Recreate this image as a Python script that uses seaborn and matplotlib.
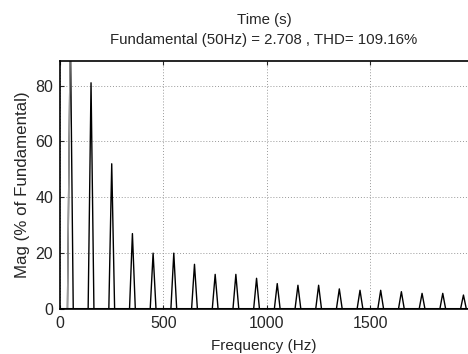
import numpy as np
import pandas as pd
import matplotlib
matplotlib.use("Agg")
import matplotlib.pyplot as plt
import seaborn as sns

# harmonic spectrum
harm_freq = [50, 150, 250, 350, 450, 550, 650, 750, 850, 950,
             1050, 1150, 1250, 1350, 1450, 1550, 1650, 1750, 1850, 1950]
harm_mag = [100, 81, 52, 27, 20, 20, 16, 12.4, 12.4, 11,
            9.1, 8.5, 8.5, 7.2, 6.7, 6.7, 6.2, 5.6, 5.6, 5.0]
bin_half = 14  # Hz, half width of each spectral line base

title_text = "Time (s)\nFundamental (50Hz) = 2.708 , THD= 109.16%"
x_ticks = [0, 500, 1000, 1500]
y_ticks = [0, 20, 40, 60, 80]

sns.set_style("white")
plt.rcParams["font.family"] = ["Liberation Sans", "DejaVu Sans"]

# spectrum as a polyline: zero, peak, zero for every harmonic
fx, fy = [0], [0]
for f, m in zip(harm_freq, harm_mag):
    fx += [f - bin_half, f, f + bin_half]
    fy += [0, m, 0]
fx.append(2000)
fy.append(0)
spec = pd.DataFrame({"freq": fx, "mag": fy})

fig = plt.figure(figsize=(4.68, 3.54), dpi=100)
ax = fig.add_axes([60 / 468, 45 / 354, 1 - 60 / 468, 248 / 354])

sns.lineplot(data=spec, x="freq", y="mag", sort=False, color="black",
             lw=1.0, ax=ax)
# fundamental's rising edge looks grey in the original
ax.plot([harm_freq[0] - bin_half, harm_freq[0]], [0, harm_mag[0]],
        color="#9a9a9a", lw=1.0)
ax.axhline(0, color="black", lw=2.2)

ax.set_xlim(0, 1972)
ax.set_ylim(0, 88.8)
ax.set_xticks(x_ticks)
ax.set_yticks(y_ticks)
ax.grid(True, linestyle=(0, (1, 2)), color="#999999", lw=0.7)
ax.tick_params(direction="in", length=3, labelsize=11.5, pad=5,
               top=True, bottom=True, left=True)
for s in ["left", "top", "bottom"]:
    ax.spines[s].set_color("black")
    ax.spines[s].set_linewidth(1.2)
ax.spines["right"].set_visible(False)

ax.set_xlabel("Frequency (Hz)", fontsize=11, labelpad=6)
ax.set_ylabel("Mag (% of Fundamental)", fontsize=12.2, labelpad=4)
ax.set_title(title_text, fontsize=10.8, pad=12, linespacing=1.55)

fig.savefig("out.png", dpi=100)
